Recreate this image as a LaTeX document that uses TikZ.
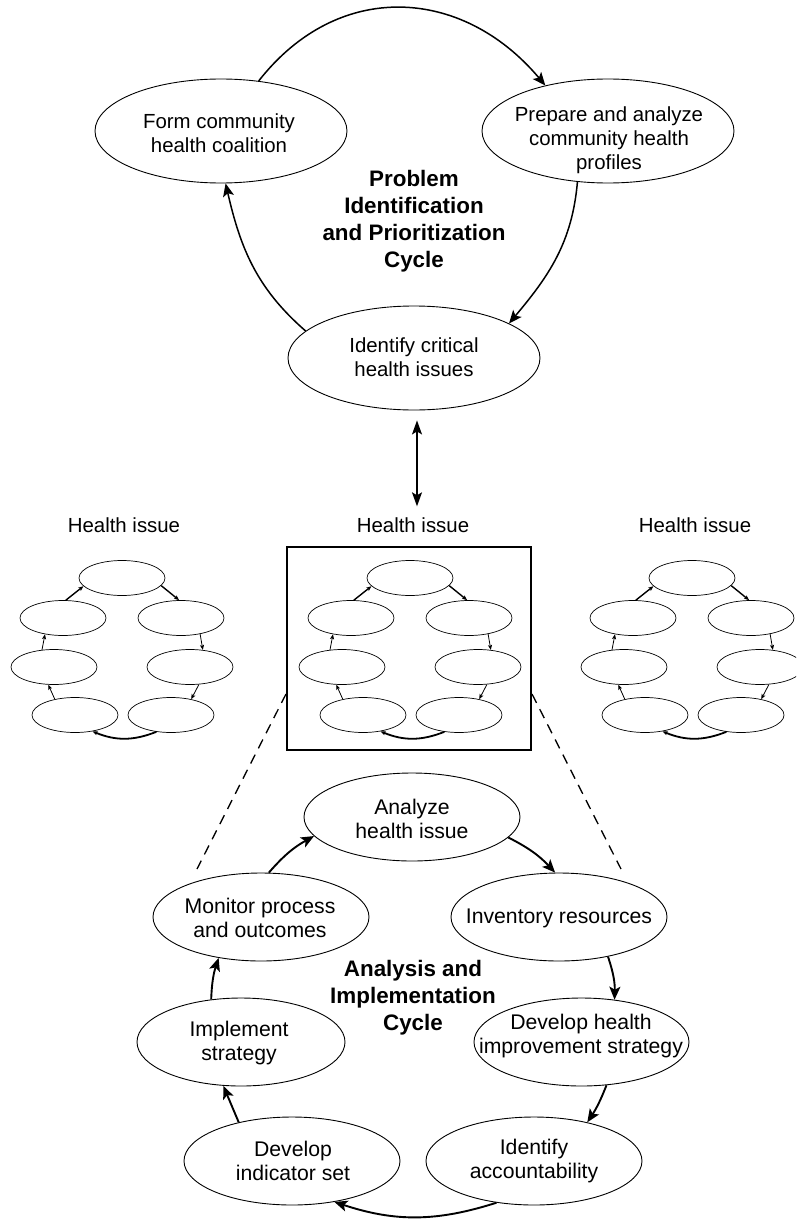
\documentclass[tikz,border=0pt]{standalone}
\usepackage{fontspec}
\setmainfont{Liberation Sans}
\usetikzlibrary{shapes.geometric, arrows.meta}

\tikzset{
  bigell/.style={draw, ellipse, line width=0.9pt, minimum width=252pt, minimum height=104pt, inner sep=0pt},
  cycell/.style={draw, ellipse, line width=0.9pt, minimum width=216pt, minimum height=88pt, inner sep=0pt},
  miniell/.style={draw, ellipse, line width=0.7pt, minimum width=86pt, minimum height=35pt, inner sep=0pt},
  toptext/.style={align=center, inner sep=0pt, font=\fontsize{20.4pt}{24pt}\selectfont},
  lowtext/.style={align=center, inner sep=0pt, font=\fontsize{21.2pt}{24.5pt}\selectfont},
  cyctitle/.style={align=center, inner sep=0pt, font=\fontsize{22.4pt}{27pt}\selectfont\bfseries},
  toparr/.style={line width=1.5pt, -{Stealth[length=13pt, width=11pt, inset=3pt]}},
  lowarr/.style={line width=1.9pt, -{Stealth[length=13pt, width=11pt, inset=3pt]}},
  miniarr/.style={line width=0.8pt, -{Stealth[length=5pt, width=4pt, inset=1pt]}},
  linkarr/.style={line width=1.3pt, {Stealth[length=14pt, width=10pt, inset=3pt]}-{Stealth[length=14pt, width=10pt, inset=3pt]}},
  zoomdash/.style={line width=1.3pt, dash pattern=on 10pt off 7pt},
  minicycle/.pic={
    \node[miniell] (-t)  at (0,0) {};
    \node[miniell] (-ul) at (-59,-40) {};
    \node[miniell] (-ur) at (59,-40) {};
    \node[miniell] (-ml) at (-68,-89) {};
    \node[miniell] (-mr) at (68,-89) {};
    \node[miniell] (-bl) at (-47,-137) {};
    \node[miniell] (-br) at (49,-137) {};
    \draw[miniarr, line width=1.4pt] (-ul.81) -- (-t.192);
    \draw[miniarr, line width=1.4pt] (-t.-11) -- (-ur.96);
    \draw[miniarr] (-ur.-40) -- (-mr.53);
    \draw[miniarr] (-mr.-63) -- (-br.38);
    \draw[miniarr, line width=1.8pt] (-br.229) to[bend left=22] (-bl.-43);
    \draw[miniarr] (-bl.142) -- (-ml.252);
    \draw[miniarr] (-ml.125) -- (-ul.222);
  }
}

\begin{document}
\begin{tikzpicture}[x=1pt, y=1pt]
\useasboundingbox (0,0) rectangle (796,-1220);
\clip (0,0) rectangle (796,-1220);

% Problem identification and prioritization cycle
\node[bigell] (form)  at (221,-131) {};
\node[bigell] (prep)  at (608,-131) {};
\node[bigell] (ident) at (414,-358) {};
\node[toptext] (form-t)  at (219,-133) {Form community\\health coalition};
\node[toptext] (prep-t)  at (609,-140) {Prepare and analyze\\community health\\profiles};
\node[toptext] (ident-t) at (414,-357.5) {Identify critical\\health issues};
\node[cyctitle] (toptitle) at (414,-221) {Problem\\Identification\\and Prioritization\\Cycle};

\draw[toparr] (form.53) to[out=52, in=130, looseness=1.15] (prep.144);
\draw[toparr] (prep.239) to[out=-95, in=50] (ident.20);
\draw[toparr] (ident.166) to[out=139, in=-77] (form.275);

% Health issues
\node[toptext] (hiL) at (124,-525) {Health issue};
\node[toptext] (hiM) at (413,-525) {Health issue};
\node[toptext] (hiR) at (695,-525) {Health issue};
\draw[linkarr] ([xshift=3pt,yshift=-10pt]ident.south) -- ([xshift=4pt,yshift=11pt]hiM.north);

\pic (L) at (122,-578) {minicycle};
\pic (M) at (410,-578) {minicycle};
\pic (R) at (692,-578) {minicycle};

\node[draw, line width=2pt, minimum width=244pt, minimum height=203pt, inner sep=0pt] (zoombox) at (409,-648.5) {};
\coordinate (dl) at (197,-869);
\coordinate (dr) at (621,-869);
\draw[zoomdash] ([yshift=57pt]zoombox.south west) -- (dl);
\draw[zoomdash] ([yshift=57pt]zoombox.south east) -- (dr);

% Analysis and implementation cycle
\node[cycell] (ana) at (412,-817) {};
\node[cycell] (mon) at (261,-917) {};
\node[cycell] (inv) at (559,-917) {};
\node[cycell, minimum width=215pt] (dh) at (581.5,-1042) {};
\node[cycell, minimum width=208pt] (imp) at (241,-1042) {};
\node[cycell] (di) at (292,-1161) {};
\node[cycell] (ia) at (534,-1161) {};

\node[lowtext] (ana-t) at (412,-819) {Analyze\\health issue};
\node[lowtext] (mon-t) at (260,-918) {Monitor process\\and outcomes};
\node[lowtext] (inv-t) at (559,-918) {Inventory resources};
\node[lowtext] (dh-t)  at (581,-1036) {Develop health\\improvement strategy};
\node[lowtext] (imp-t) at (239,-1043) {Implement\\strategy};
\node[lowtext] (di-t)  at (293,-1161) {Develop\\indicator set};
\node[lowtext] (ia-t)  at (534,-1161) {Identify\\accountability};
\node[cyctitle] (lowtitle) at (413,-998) {Analysis and\\Implementation\\Cycle};

\draw[lowarr] (mon.80) to[bend left=10] (ana.191);
\draw[lowarr] (ana.-12) to[bend left=10] (inv.95);
\draw[lowarr] (inv.-39) to[bend left=10] (dh.52);
\draw[lowarr] (dh.-60) to[bend left=6] (ia.36);
\draw[lowarr] (ia.228) to[bend left=18] (di.-44);
\draw[lowarr] (di.144) -- (imp.248);
\draw[lowarr] (imp.125) to[bend left=8] (mon.224);
\end{tikzpicture}
\end{document}
